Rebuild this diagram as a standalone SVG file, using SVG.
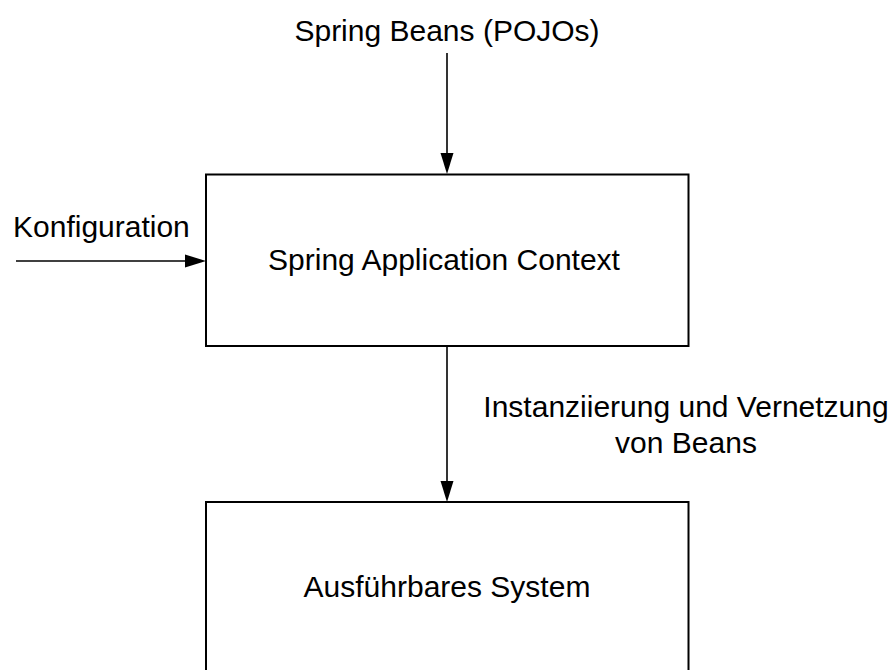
<svg xmlns="http://www.w3.org/2000/svg" width="896" height="670" viewBox="0 0 896 670">
<defs>
<style>
text{font-family:"Liberation Sans",Arial,Helvetica,sans-serif;font-size:30px;fill:#000}
.box{fill:#fff;stroke:#000;stroke-width:2}
.edge{stroke:#000;stroke-width:1.6;fill:none}
.head{fill:#000;stroke:none}
</style>
</defs>
<rect width="896" height="670" fill="#fff"/>
<g id="connectors">
<g id="e-beans">
<line class="edge" x1="447" y1="53" x2="447" y2="156"/>
<polygon class="head" points="440.5,153 453.5,153 447,174"/>
</g>
<g id="e-config">
<line class="edge" x1="16" y1="261" x2="188" y2="261"/>
<polygon class="head" points="185,254.5 185,267.5 206,261"/>
</g>
<g id="e-instanz">
<line class="edge" x1="447" y1="346" x2="447" y2="484"/>
<polygon class="head" points="440.5,481 453.5,481 447,502"/>
</g>
</g>
<g id="label-beans"><text x="447" y="41" text-anchor="middle">Spring Beans (POJOs)</text></g>
<g id="label-config"><text x="13" y="236.5">Konfiguration</text></g>
<g id="label-instanz">
<text x="686" y="417" text-anchor="middle">Instanziierung und Vernetzung</text>
<text x="686" y="453" text-anchor="middle">von Beans</text>
</g>
<g id="node-context">
<rect class="box" x="206" y="174.5" width="482.5" height="171.5"/>
<text x="444" y="270" text-anchor="middle">Spring Application Context</text>
</g>
<g id="node-system">
<rect class="box" x="206" y="502" width="482.5" height="200"/>
<text x="447" y="596.5" text-anchor="middle">Ausführbares System</text>
</g>
</svg>
